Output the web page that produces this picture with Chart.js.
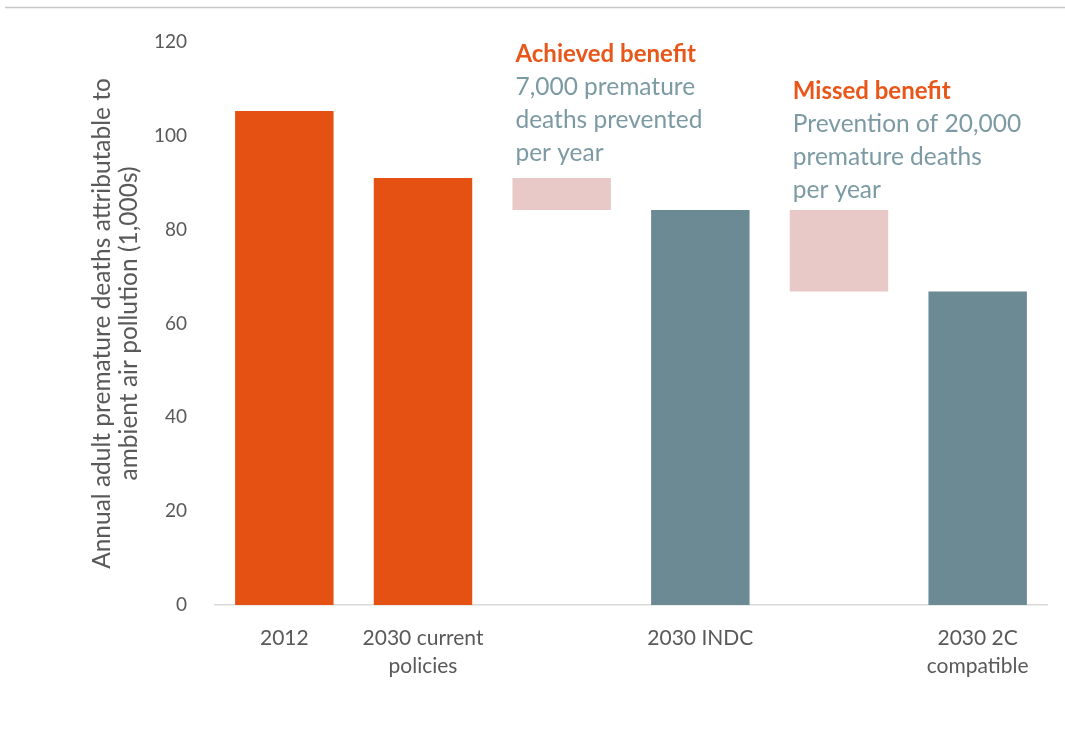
<!DOCTYPE html>
<html>
<head>
<meta charset="utf-8">
<script src="https://cdn.jsdelivr.net/npm/chart.js@4"></script>
<style>
  html, body { margin: 0; padding: 0; background: #fff; }
  #wrap { width: 1065px; height: 751px; }
</style>
</head>
<body>
<div id="wrap"><canvas id="deathsChart"></canvas></div>
<script>
const categories = ['2012', ['2030 current', 'policies'], '', '2030 INDC', '', ['2030 2C', 'compatible']];
// floating bars: [bottom, top] in thousands of deaths
const barLow = [0, 0, 84.2, 0, 66.8, 0];
const barHigh = [105.3, 91, 91, 84.2, 84.2, 66.8];
const yTicks = [0, 20, 40, 60, 80, 100, 120];

const notes = [
  { bar: 2, top: 120, head: 'Achieved benefit', lines: ['7,000 premature', 'deaths prevented', 'per year'] },
  { bar: 4, top: 112, head: 'Missed benefit', lines: ['Prevention of 20,000', 'premature deaths', 'per year'] }
];

const ORANGE = '#E55013';
const SLATE = '#6C8A94';
const PINK = '#E9C9C8';
const barColors = [ORANGE, ORANGE, PINK, SLATE, PINK, SLATE];
const FONT = 'Lato, "Open Sans", sans-serif';

// thin rule across the top + annotation text
const extras = {
  id: 'extras',
  beforeDraw(chart) {
    const ctx = chart.ctx;
    ctx.save();
    ctx.strokeStyle = '#c8c8c8';
    ctx.lineWidth = 1.5;
    ctx.beginPath();
    ctx.moveTo(5, 7.5);
    ctx.lineTo(chart.width, 7.5);
    ctx.stroke();
    ctx.restore();
  },
  afterDatasetsDraw(chart) {
    const ctx = chart.ctx;
    const meta = chart.getDatasetMeta(0);
    const y = chart.scales.y;
    ctx.save();
    ctx.textAlign = 'left';
    ctx.textBaseline = 'middle';
    notes.forEach(n => {
      const el = meta.data[n.bar];
      const x = el.x - el.width / 2 + 3;
      let ty = y.getPixelForValue(n.top) + 12;
      ctx.font = 'bold 24px ' + FONT;
      ctx.fillStyle = '#E8561A';
      ctx.fillText(n.head, x, ty);
      ctx.font = '24.5px ' + FONT;
      ctx.fillStyle = '#7B9AA3';
      n.lines.forEach(line => {
        ty += 33;
        ctx.fillText(line, x, ty);
      });
    });
    ctx.restore();
  }
};

new Chart(document.getElementById('deathsChart'), {
  type: 'bar',
  data: {
    labels: categories,
    datasets: [{
      data: barLow.map((lo, i) => [lo, barHigh[i]]),
      backgroundColor: barColors,
      borderWidth: 0,
      barPercentage: 0.71,
      categoryPercentage: 1
    }]
  },
  options: {
    responsive: true,
    maintainAspectRatio: false,
    animation: false,
    layout: { padding: { top: 42, right: 18, left: 0, bottom: 0 } },
    plugins: {
      legend: { display: false },
      tooltip: { enabled: false }
    },
    scales: {
      x: {
        grid: { display: false },
        border: { display: true, color: '#d9d9d9', width: 1.5 },
        ticks: {
          color: '#595959',
          font: { family: FONT, size: 21, lineHeight: 1.3 },
          padding: 12,
          maxRotation: 0,
          autoSkip: false
        },
        afterFit(scale) { scale.height = 146; }
      },
      y: {
        min: 0,
        max: 120,
        grid: { display: false },
        border: { display: false },
        afterBuildTicks(scale) { scale.ticks = yTicks.map(v => ({ value: v })); },
        ticks: {
          color: '#595959',
          font: { family: FONT, size: 19 },
          padding: 20
        },
        title: {
          display: true,
          text: ['Annual adult premature deaths attributable to', 'ambient air pollution (1,000s)'],
          color: '#595959',
          font: { family: FONT, size: 24.5, lineHeight: 1.12 },
          padding: { top: 88, bottom: 0 }
        },
        afterFit(scale) { scale.width = 215; }
      }
    }
  },
  plugins: [extras]
});
</script>
</body>
</html>
